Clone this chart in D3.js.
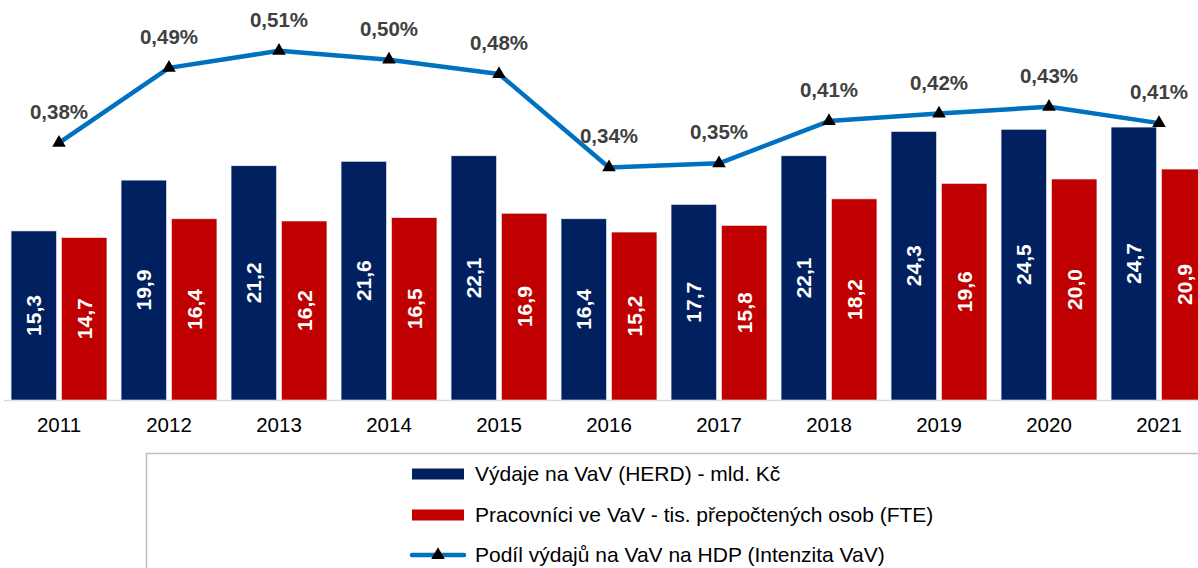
<!DOCTYPE html>
<html>
<head>
<meta charset="utf-8">
<script src="https://cdn.jsdelivr.net/npm/d3@7"></script>
<style>
  body { margin: 0; background: #fff; overflow: hidden; }
  svg { display: block; font-family: "Liberation Sans", Arial, sans-serif; }
</style>
</head>
<body>
<div id="chart"></div>
<script>
const years = ["2011", "2012", "2013", "2014", "2015", "2016", "2017", "2018", "2019", "2020", "2021"];
const herd = [15.3, 19.9, 21.2, 21.6, 22.1, 16.4, 17.7, 22.1, 24.3, 24.5, 24.7];
const fte = [14.7, 16.4, 16.2, 16.5, 16.9, 15.2, 15.8, 18.2, 19.6, 20.0, 20.9];
const intensity = [0.377, 0.487, 0.512, 0.499, 0.478, 0.341, 0.347, 0.409, 0.42, 0.43, 0.406];
const seriesNames = [
    "Výdaje na VaV (HERD) - mld. Kč",
    "Pracovníci ve VaV - tis. přepočtených osob (FTE)",
    "Podíl výdajů na VaV na HDP (Intenzita VaV)"
];
const colors = ["#002060", "#C00000", "#0070C0"];

const width = 1198, height = 568;
const svg = d3.select("#chart").append("svg")
    .attr("width", width)
    .attr("height", height);

const x = d3.scaleBand().domain(years).range([4, 1214]);
const x1 = d3.scaleBand().domain([0, 1]).range([0, x.bandwidth()])
    .paddingInner(0.1).paddingOuter(0.14);
const y = d3.scaleLinear().domain([0, 36.2]).range([400, 0]);
const y2 = d3.scaleLinear().domain([0, 0.5865]).range([400, 0]);

const fmt = v => d3.format(".1f")(v).replace(".", ",");
const fmtPct = v => d3.format(".2f")(v).replace(".", ",") + "%";

// axis line
svg.append("line")
    .attr("x1", 4).attr("x2", width)
    .attr("y1", 400.5).attr("y2", 400.5)
    .attr("stroke", "#d9d9d9").attr("stroke-width", 1.5);

// bars
const rows = years.map((yr, i) => ({ yr, vals: [herd[i], fte[i]] }));
const groups = svg.selectAll(".grp")
    .data(rows)
    .enter()
    .append("g")
    .attr("class", "grp")
    .attr("transform", d => `translate(${x(d.yr)},0)`);

groups.selectAll("rect")
    .data(d => d.vals.map((v, k) => ({ v, k })))
    .enter()
    .append("rect")
    .attr("x", d => x1(d.k))
    .attr("y", d => y(d.v))
    .attr("width", x1.bandwidth())
    .attr("height", d => y(0) - y(d.v))
    .attr("fill", d => colors[d.k])
    .attr("stroke", "#f2f2f2")
    .attr("stroke-width", 0.6);

groups.selectAll("text.val")
    .data(d => d.vals.map((v, k) => ({ v, k })))
    .enter()
    .append("text")
    .attr("class", "val")
    .attr("transform", d => `translate(${x1(d.k) + x1.bandwidth() / 2},${(y(d.v) + y(0)) / 2}) rotate(-90)`)
    .attr("text-anchor", "middle")
    .attr("dy", "0.35em")
    .attr("fill", "#fff")
    .attr("font-size", 21)
    .attr("font-weight", "bold")
    .text(d => fmt(d.v));

// year labels
svg.selectAll(".year")
    .data(years)
    .enter()
    .append("text")
    .attr("class", "year")
    .attr("x", d => x(d) + x.bandwidth() / 2)
    .attr("y", 432)
    .attr("text-anchor", "middle")
    .attr("font-size", 20.5)
    .attr("fill", "#000")
    .text(d => d);

// line
const cx = i => x(years[i]) + x.bandwidth() / 2;
const line = d3.line()
    .x((d, i) => cx(i))
    .y(d => y2(d));

svg.append("path")
    .datum(intensity)
    .attr("d", line)
    .attr("fill", "none")
    .attr("stroke", colors[2])
    .attr("stroke-width", 4.5)
    .attr("stroke-linejoin", "round");

const tri = d3.symbol().type(d3.symbolTriangle).size(80);
svg.selectAll(".mk")
    .data(intensity)
    .enter()
    .append("path")
    .attr("class", "mk")
    .attr("d", tri)
    .attr("transform", (d, i) => `translate(${cx(i)},${y2(d)})`)
    .attr("fill", "#000");

svg.selectAll(".pct")
    .data(intensity)
    .enter()
    .append("text")
    .attr("class", "pct")
    .attr("x", (d, i) => cx(i))
    .attr("y", d => y2(d) - 24)
    .attr("text-anchor", "middle")
    .attr("font-size", 20.5)
    .attr("font-weight", "bold")
    .attr("fill", "#404040")
    .text(d => fmtPct(d));

// legend
svg.append("rect")
    .attr("x", 146.5).attr("y", 453.5)
    .attr("width", 1200).attr("height", 200)
    .attr("fill", "none")
    .attr("stroke", "#bfbfbf")
    .attr("stroke-width", 1.5);

const legY = [474, 515, 555];
const leg = svg.selectAll(".leg")
    .data(seriesNames)
    .enter()
    .append("g")
    .attr("class", "leg")
    .attr("transform", (d, i) => `translate(0,${legY[i]})`);

leg.filter((d, i) => i < 2)
    .append("rect")
    .attr("x", 412).attr("y", -5.5)
    .attr("width", 52).attr("height", 11)
    .attr("fill", (d, i) => colors[i]);

const lineLeg = leg.filter((d, i) => i === 2);
lineLeg.append("line")
    .attr("x1", 412).attr("x2", 464)
    .attr("stroke", colors[2])
    .attr("stroke-width", 4.5)
    .attr("stroke-linecap", "round");
lineLeg.append("path")
    .attr("d", tri)
    .attr("transform", "translate(438,0)")
    .attr("fill", "#000");

leg.append("text")
    .attr("x", 475)
    .attr("dy", "0.35em")
    .attr("font-size", 21)
    .attr("fill", "#000")
    .text(d => d);
</script>
</body>
</html>
